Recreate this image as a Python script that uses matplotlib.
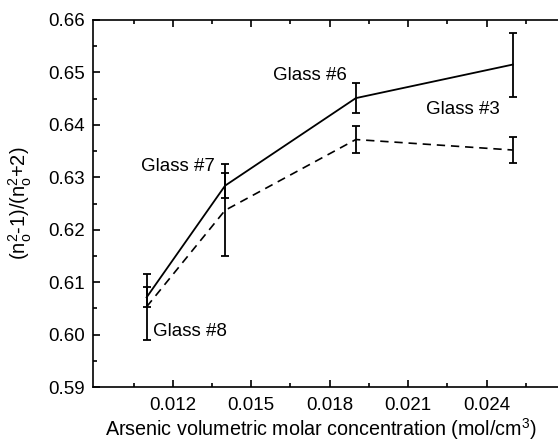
import matplotlib.pyplot as plt
import numpy as np

plt.rcParams['font.family'] = ['Liberation Sans', 'DejaVu Sans']
plt.rcParams['mathtext.fontset'] = 'custom'
plt.rcParams['mathtext.rm'] = 'Liberation Sans'
plt.rcParams['mathtext.default'] = 'regular'

# concentracion de arsenico (mol/cm3) de cada vidrio
conc = [0.011, 0.014, 0.019, 0.025]
glass = ['Glass #8', 'Glass #7', 'Glass #6', 'Glass #3']

# serie continua y su error
solid_y = [0.6071, 0.6284, 0.6451, 0.6515]
solid_err = [0.0019, 0.0024, 0.0028, 0.0061]

# serie discontinua y su error
dash_y = [0.6053, 0.6237, 0.6372, 0.6352]
dash_err = [0.0063, 0.0088, 0.0025, 0.0024]

xticks = [0.012, 0.015, 0.018, 0.021, 0.024]
yticks = [0.59, 0.60, 0.61, 0.62, 0.63, 0.64, 0.65, 0.66]

fig = plt.figure(figsize=(5.58, 4.41), dpi=100)
ax = fig.add_axes([93/558, 1 - 387/441, 1 - 93/558, (387 - 20)/441])

ax.errorbar(conc, solid_y, yerr=solid_err, color='k', linewidth=1.3,
            elinewidth=1.3, capsize=3, capthick=1.3)
ax.errorbar(conc, dash_y, yerr=dash_err, color='k', linewidth=1.2,
            linestyle=(0, (5, 3.5)), elinewidth=1.3, capsize=3, capthick=1.3)

# etiquetas de cada vidrio
ax.text(0.01124, 0.6005, glass[0], fontsize=13.5, va='center', ha='left')
ax.text(0.01362, 0.6320, glass[1], fontsize=13.5, va='center', ha='right')
ax.text(0.01867, 0.6495, glass[2], fontsize=13.5, va='center', ha='right')
ax.text(0.02167, 0.6430, glass[3], fontsize=13.5, va='center', ha='left')

ax.set_xlim(0.00895, 0.02673)
ax.set_ylim(0.59, 0.66)
ax.set_xticks(xticks)
ax.set_xticklabels(['%.3f' % t for t in xticks])
ax.set_xticks(list(np.arange(0.0105, 0.0266, 0.003)), minor=True)
ax.set_yticks(yticks)
ax.set_yticklabels(['%.2f' % t for t in yticks])
ax.set_yticks(list(np.arange(0.595, 0.66, 0.01)), minor=True)

ax.tick_params(which='both', direction='in', top=True, right=False,
               labelsize=13.5, width=1.2)
ax.tick_params(which='major', length=5, pad=6)
ax.tick_params(axis='x', which='major', pad=7)
ax.tick_params(which='minor', length=3)
ax.spines['right'].set_visible(False)
for s in ['left', 'bottom', 'top']:
    ax.spines[s].set_linewidth(1.2)

ax.set_xlabel('Arsenic volumetric molar concentration (mol/cm$^3$)', fontsize=14.2)
ax.xaxis.set_label_coords(0.49, -0.08)
ax.set_ylabel('(n$_o^2$-1)/(n$_o^2$+2)', fontsize=14.5, labelpad=10)

fig.savefig('out.png', dpi=100)
